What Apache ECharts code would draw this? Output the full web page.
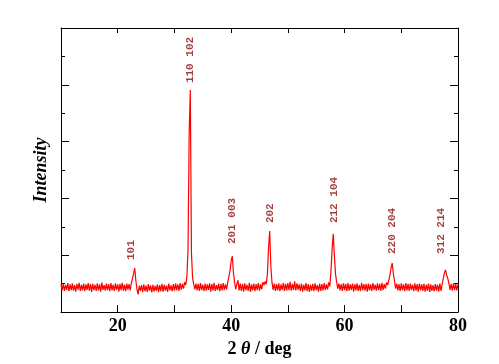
<!DOCTYPE html>
<html>
<head>
<meta charset="utf-8">
<script src="https://cdn.jsdelivr.net/npm/echarts@6/dist/echarts.min.js"></script>
<style>html,body{margin:0;padding:0;background:#fff;}#c{width:499px;height:364px;}</style>
</head>
<body>
<div id="c"></div>
<script>
// X scan: 2θ from 10 to 80 deg, step 0.2 deg
var twoThetaStart = 10.0;
var twoThetaStep = 0.2;
// intensity values (arbitrary units, axis 0-10)
var intensity = [
  0.98,0.76,1.00,0.74,0.96,0.78,1.02,0.73,0.97,0.77,
  1.01,0.75,0.95,0.72,0.99,0.79,1.03,0.74,0.96,0.76,
  1.00,0.73,0.97,0.78,1.02,0.75,0.98,0.71,0.99,0.77,
  0.96,0.74,1.01,0.76,0.97,0.72,1.04,0.78,0.95,0.75,
  1.00,0.77,0.98,0.73,1.02,0.76,0.96,0.74,1.01,0.78,
  0.97,0.72,0.99,0.77,1.03,0.75,0.96,0.73,1.00,0.79,
  0.98,0.76,1.02,1.00,1.35,1.55,1.10,0.80,0.62,0.92,
  0.74,0.95,0.70,0.97,0.73,0.93,0.71,0.98,0.75,0.94,
  0.69,0.96,0.72,0.92,0.74,0.97,0.70,0.95,0.73,0.99,
  0.72,0.96,0.75,0.93,0.71,1.00,0.76,0.94,0.73,0.98,
  0.75,1.01,0.77,0.97,0.74,1.02,0.79,0.99,0.82,1.05,
  0.95,1.25,2.20,6.30,7.82,2.10,1.20,0.98,0.80,1.00,
  0.76,0.99,0.74,1.02,0.77,0.96,0.73,1.00,0.75,0.97,
  0.78,1.01,0.72,0.98,0.76,1.03,0.74,0.95,0.77,1.00,
  0.73,0.99,0.76,1.02,0.78,0.97,0.80,1.04,1.00,1.45,
  1.80,1.97,1.40,1.05,0.80,0.98,1.12,0.76,1.00,0.74,
  0.99,0.72,1.01,0.77,0.96,0.74,1.03,0.71,0.97,0.76,
  1.00,0.73,0.98,0.77,1.02,0.75,0.97,0.80,1.05,0.95,
  1.08,0.98,1.35,2.30,2.85,1.60,1.05,0.78,1.00,0.74,
  0.98,0.76,1.01,0.73,0.97,0.78,1.03,0.74,0.99,0.76,
  1.02,0.77,1.06,0.75,0.99,0.78,1.08,0.76,1.01,0.79,
  0.97,0.74,1.00,0.72,0.96,0.76,1.02,0.73,0.98,0.71,
  0.96,0.75,0.99,0.73,1.01,0.77,0.95,0.72,1.00,0.74,
  0.98,0.76,1.02,0.78,0.97,0.80,1.04,0.90,1.45,2.20,
  2.75,2.00,1.35,1.05,0.82,1.00,0.76,0.98,0.74,1.01,
  0.77,0.99,0.73,1.02,0.75,0.97,0.78,1.00,0.72,0.98,
  0.76,1.01,0.74,0.96,0.73,1.03,0.77,0.98,0.75,0.99,
  0.72,1.00,0.76,0.97,0.74,1.02,0.78,0.96,0.75,1.01,
  0.77,0.99,0.74,1.03,0.78,0.98,0.82,1.04,0.95,1.12,
  1.30,1.55,1.72,1.35,1.10,0.82,1.00,0.76,0.98,0.74,
  1.01,0.77,0.97,0.73,1.02,0.76,0.99,0.74,1.00,0.78,
  0.96,0.73,1.01,0.75,0.98,0.72,1.00,0.76,0.97,0.74,
  0.99,0.72,0.96,0.75,1.00,0.71,0.97,0.74,0.95,0.73,
  0.98,0.75,0.96,0.72,1.00,0.74,0.97,1.02,1.38,1.48,
  1.30,1.18,1.00,0.78,0.99,0.75,1.01,0.77,0.98,0.76,
  0.97
];
// peak (hkl) annotations
var peakLabelText = ['101', '110 102', '201 003', '202', '212 104', '220 204', '312 214'];
var peakLabelX = [22.35, 32.75, 40.15, 46.85, 58.15, 68.35, 77.0];
var peakLabelY = [1.83, 8.06, 2.39, 3.13, 3.13, 2.04, 2.04];
// axis ticks
var xMin = 10, xMax = 80, xTickStep = 10, xLabelEvery = 20;
var yMin = 0, yMax = 10, yTickStep = 2;

var lineData = intensity.map(function (v, i) {
  return [+(twoThetaStart + i * twoThetaStep).toFixed(2), v];
});
var labelData = peakLabelText.map(function (t, i) {
  return [peakLabelX[i], peakLabelY[i], t];
});

var chart = echarts.init(document.getElementById('c'), null, {renderer: 'canvas'});
var axisLine = {show: true, onZero: false, lineStyle: {color: '#000', width: 1}};
var serif = 'Liberation Serif';
chart.setOption({
  animation: false,
  backgroundColor: '#fff',
  grid: {left: 61, right: 41, top: 28, bottom: 52},
  xAxis: [{
    type: 'value', min: xMin, max: xMax, interval: xTickStep, position: 'bottom',
    axisLine: axisLine,
    axisTick: {show: true, inside: true, length: 7, lineStyle: {color: '#000'}},
    splitLine: {show: false},
    axisLabel: {
      margin: 5, color: '#000', fontFamily: serif, fontWeight: 'bold', fontSize: 18,
      formatter: function (v) { return v % xLabelEvery === 0 ? String(v) : ''; }
    },
    name: '{n|2 }{t|θ}{n| / deg}', nameLocation: 'middle', nameGap: 16,
    nameTextStyle: {
      rich: {
        n: {fontFamily: serif, fontWeight: 'bold', fontSize: 18, color: '#000'},
        t: {fontFamily: serif, fontWeight: 'bold', fontStyle: 'italic', fontSize: 18, color: '#000'}
      }
    }
  }, {
    type: 'value', min: xMin, max: xMax, interval: xTickStep, position: 'top',
    axisLine: axisLine,
    axisTick: {show: true, inside: true, length: 5, lineStyle: {color: '#000'}},
    axisLabel: {show: false}, splitLine: {show: false}
  }],
  yAxis: [{
    type: 'value', min: yMin, max: yMax, interval: yTickStep, position: 'left',
    axisLine: axisLine,
    axisTick: {show: true, inside: true, length: 8, lineStyle: {color: '#000'}},
    minorTick: {show: true, splitNumber: 2, length: 4, lineStyle: {color: '#000'}},
    axisLabel: {show: false}, splitLine: {show: false},
    name: 'Intensity', nameLocation: 'middle', nameGap: 11, nameRotate: 90,
    nameTextStyle: {fontFamily: serif, fontWeight: 'bold', fontStyle: 'italic', fontSize: 18, color: '#000'}
  }, {
    type: 'value', min: yMin, max: yMax, interval: yTickStep, position: 'right',
    axisLine: axisLine,
    axisTick: {show: true, inside: true, length: 8, lineStyle: {color: '#000'}},
    minorTick: {show: true, splitNumber: 2, length: 4, lineStyle: {color: '#000'}},
    axisLabel: {show: false}, splitLine: {show: false}
  }],
  series: [{
    type: 'line', data: lineData, xAxisIndex: 0, yAxisIndex: 0,
    showSymbol: false, symbol: 'none', silent: true,
    lineStyle: {color: '#ff0000', width: 1.2}
  }, {
    type: 'scatter', data: labelData, xAxisIndex: 0, yAxisIndex: 0,
    symbolSize: 0, silent: true,
    label: {
      show: true, position: [0, 0], rotate: 90, align: 'left', verticalAlign: 'middle',
      formatter: function (p) { return p.value[2]; },
      fontFamily: 'Liberation Mono', fontWeight: 'bold', fontSize: 11, color: '#8b1010'
    }
  }]
});
</script>
</body>
</html>
